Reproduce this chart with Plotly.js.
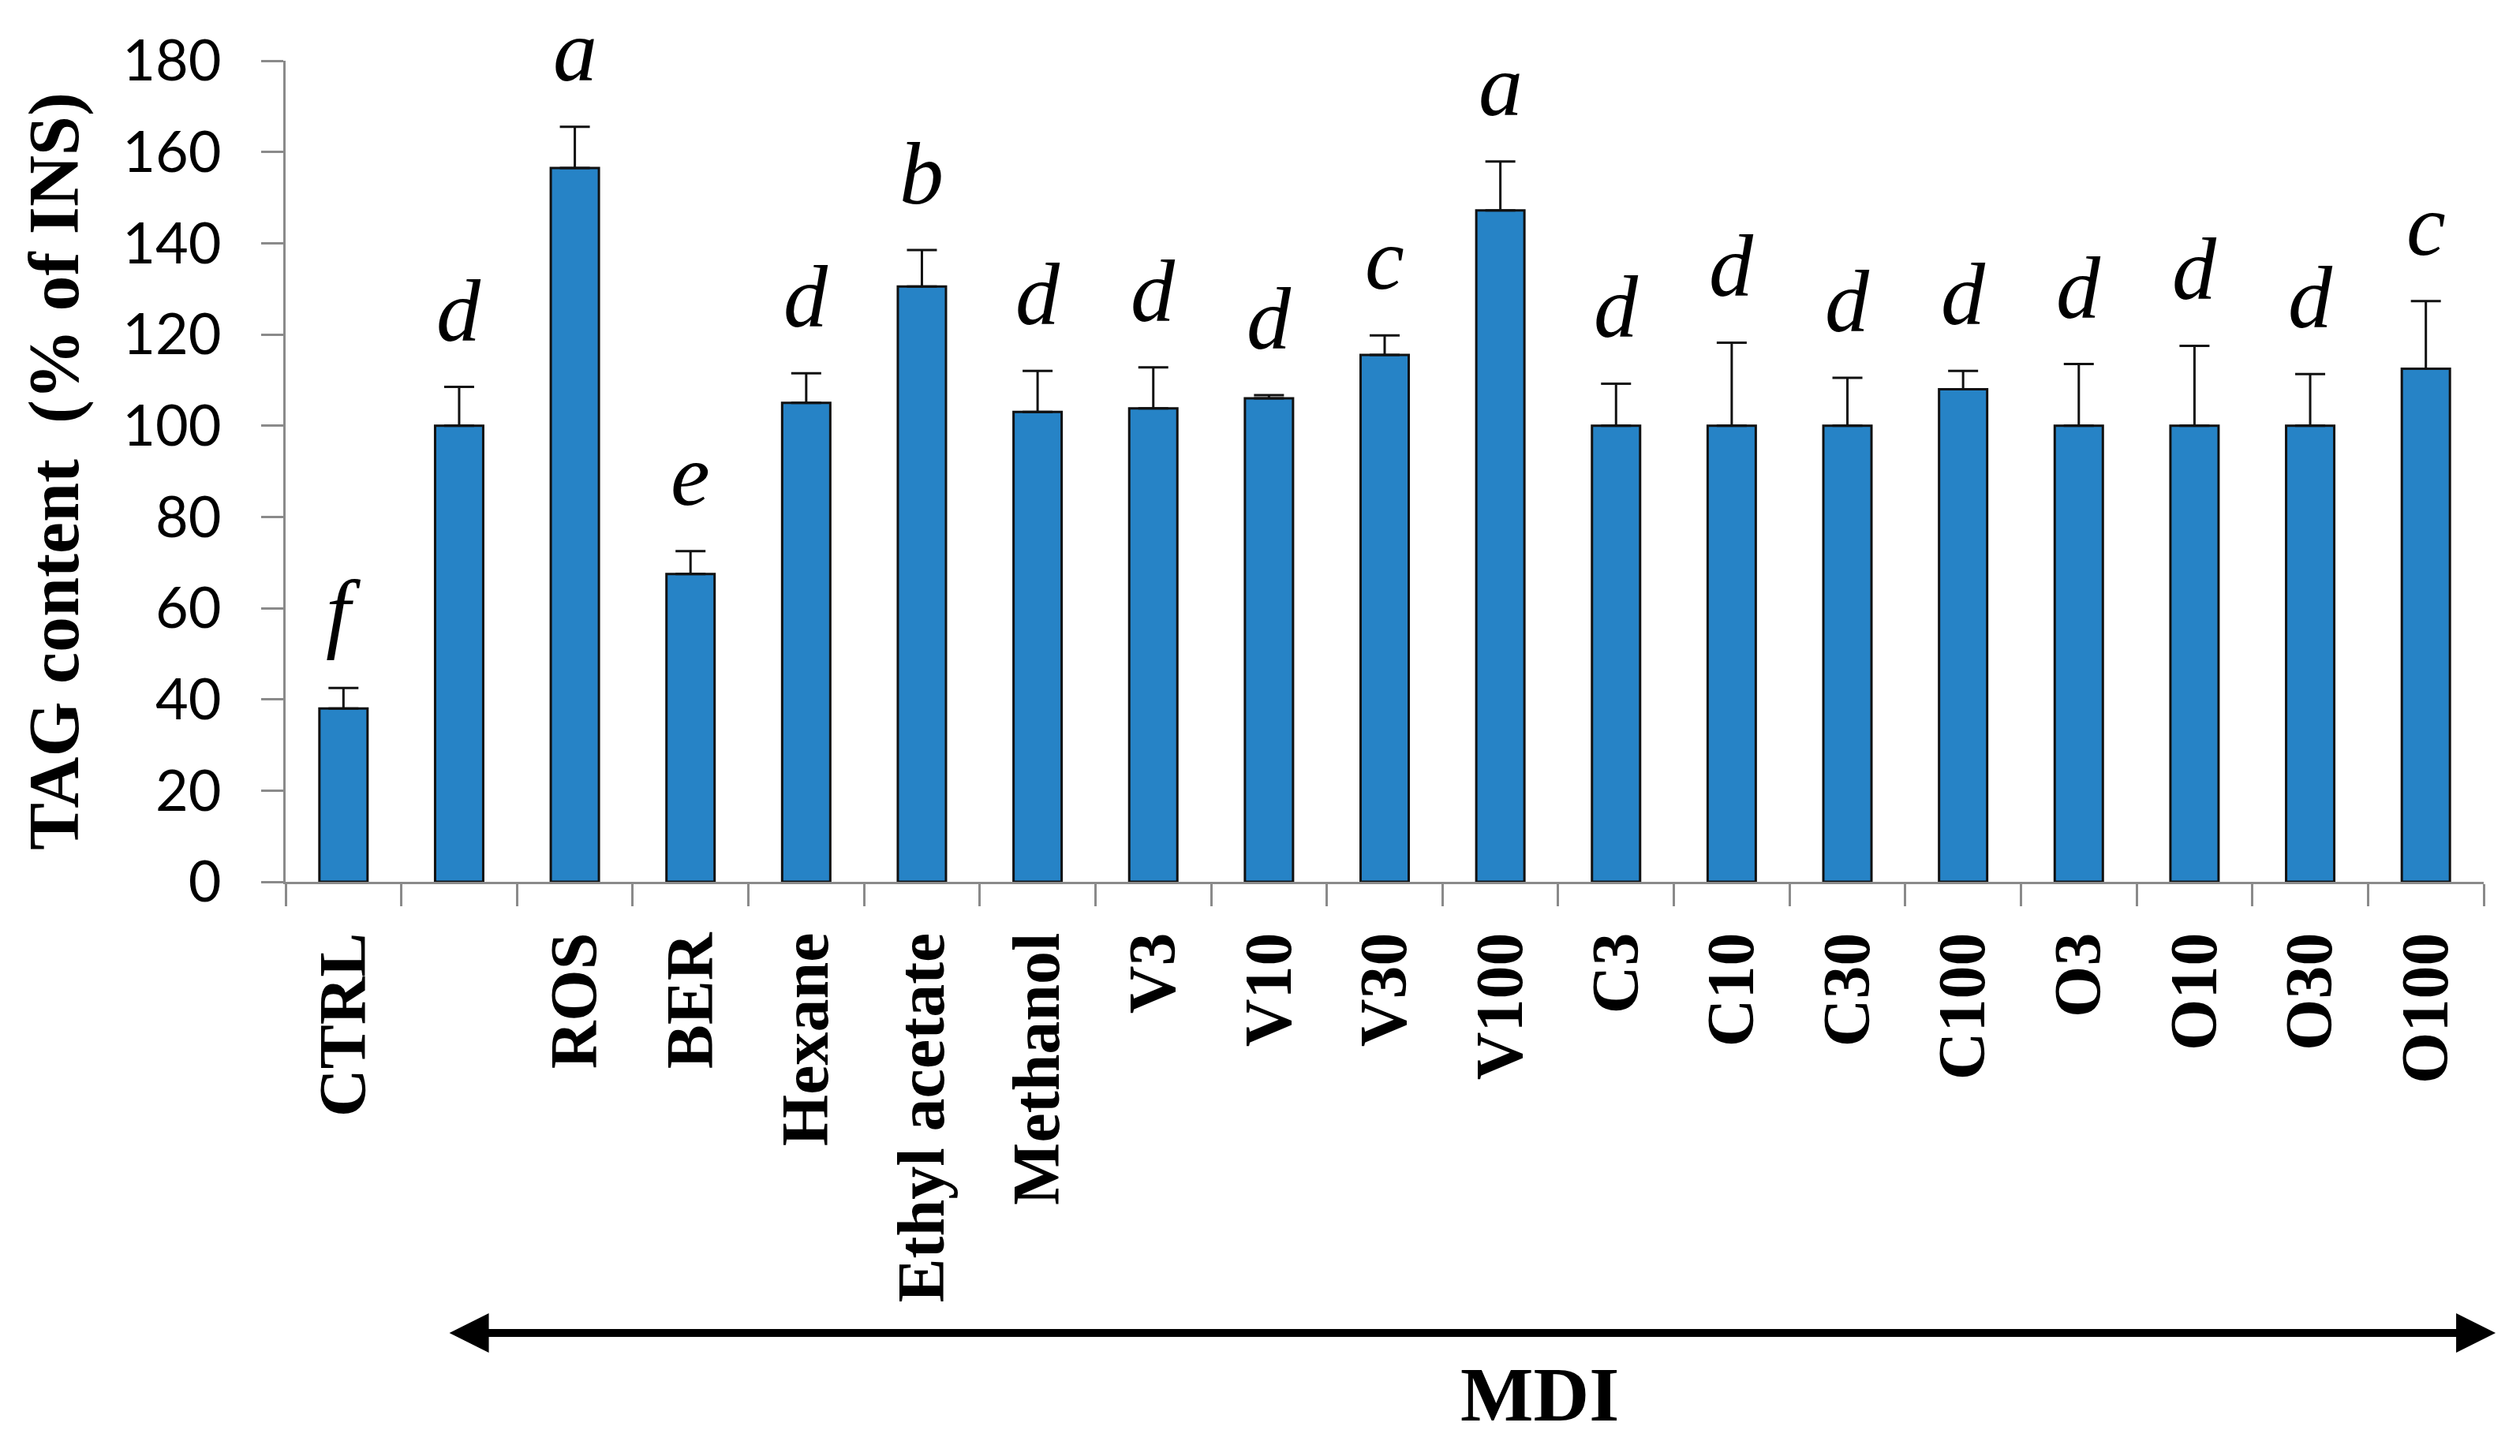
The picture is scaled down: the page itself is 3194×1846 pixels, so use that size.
<!DOCTYPE html>
<html>
<head>
<meta charset="utf-8">
<script src="https://cdn.plot.ly/plotly-3.0.1.min.js"></script>
<style>html,body{margin:0;padding:0;background:#fff;}</style>
</head>
<body>
<div id="chart" style="width:3194px;height:1846px;"></div>
<script>
// ---- data ----
const categories = ["CTRL", "", "ROS", "BER", "Hexane", "Ethyl acetate", "Methanol",
  "V3", "V10", "V30", "V100", "C3", "C10", "C30", "C100", "O3", "O10", "O30", "O100"];
const tagContent = [38, 100, 156.5, 67.5, 105, 130.5, 103, 103.8, 106, 115.5, 147.2,
  100, 100, 100, 108, 100, 100, 100, 112.5];
const errorPlus = [4.5, 8.5, 9, 5, 6.5, 8, 9, 9, 0.7, 4.3, 10.7,
  9.2, 18.2, 10.5, 4, 13.5, 17.5, 11.3, 14.8];
const letters = ["f", "d", "a", "e", "d", "b", "d", "d", "d", "c", "a",
  "d", "d", "d", "d", "d", "d", "d", "c"];
const yTicks = [0, 20, 40, 60, 80, 100, 120, 140, 160, 180];
const groupLabel = "MDI";
const yTitle = "TAG content \u00a0(% of INS)";

// ---- derived ----
const idx = categories.map((_, i) => i);
const boundaries = [];
for (let i = 0; i <= categories.length; i++) boundaries.push(i - 0.5);
const xRange = [-0.5, categories.length - 0.5];

const serif = "Liberation Serif, Times New Roman, serif";
const axisGray = "#8a8a8a";

const bars = {
  type: "bar",
  x: idx,
  y: tagContent,
  marker: { color: "#2683c6", line: { color: "#111", width: 3 } },
  error_y: {
    type: "data", symmetric: false, array: errorPlus,
    arrayminus: tagContent.map(() => 0),
    color: "#111", thickness: 3, width: 19
  },
  hoverinfo: "x+y",
  showlegend: false
};

const letterAnnotations = letters.map((l, i) => ({
  xref: "x", yref: "y", x: idx[i], y: tagContent[i] + errorPlus[i],
  yshift: 97, xanchor: "center", yanchor: "middle", showarrow: false,
  text: "<i>" + l + "</i>",
  font: { family: serif, size: 112, color: "#000" }
}));

const layout = {
  width: 3194, height: 1846,
  margin: { l: 362, r: 46, t: 77, b: 728, pad: 0 },
  paper_bgcolor: "#fff", plot_bgcolor: "#fff",
  bargap: 0.584,
  xaxis: {
    range: xRange, tickmode: "array", tickvals: idx, ticktext: categories,
    tickangle: -90, ticks: "", showgrid: false, zeroline: false,
    showline: true, linecolor: axisGray, linewidth: 3,
    tickfont: { family: serif, size: 84, color: "#000", weight: "bold" },
    ticklabelstandoff: 28, automargin: false,
    minor: {
      tickmode: "array", tickvals: boundaries, ticks: "outside",
      ticklen: 28, tickwidth: 3, tickcolor: axisGray, showgrid: false
    }
  },
  yaxis: {
    range: [0, 180], tickmode: "array", tickvals: yTicks,
    ticks: "outside", ticklen: 28, tickwidth: 3, tickcolor: axisGray,
    showline: true, linecolor: axisGray, linewidth: 3,
    showgrid: false, zeroline: false,
    tickfont: { family: "Lato, Carlito, sans-serif", size: 72, color: "#000" },
    ticklabelstandoff: 36,
    title: { text: yTitle, font: { family: serif, size: 90, color: "#000", weight: "bold" }, standoff: 26 },
    automargin: false
  },
  annotations: letterAnnotations.concat([
    {
      xref: "paper", yref: "paper", x: 1.0054, y: -0.5495,
      axref: "pixel", ayref: "pixel", ax: -2595, ay: 0,
      showarrow: true, arrowhead: 2, startarrowhead: 2, arrowside: "end+start",
      arrowsize: 1, startarrowsize: 1, arrowwidth: 10, arrowcolor: "#000", text: ""
    },
    {
      xref: "paper", yref: "paper", x: 0.5704, y: -0.6244,
      xanchor: "center", yanchor: "middle", showarrow: false,
      text: "<b>" + groupLabel + "</b>",
      font: { family: serif, size: 98, color: "#000" }
    }
  ])
};

Plotly.newPlot("chart", [bars], layout, { staticPlot: true, displayModeBar: false });
</script>
</body>
</html>
